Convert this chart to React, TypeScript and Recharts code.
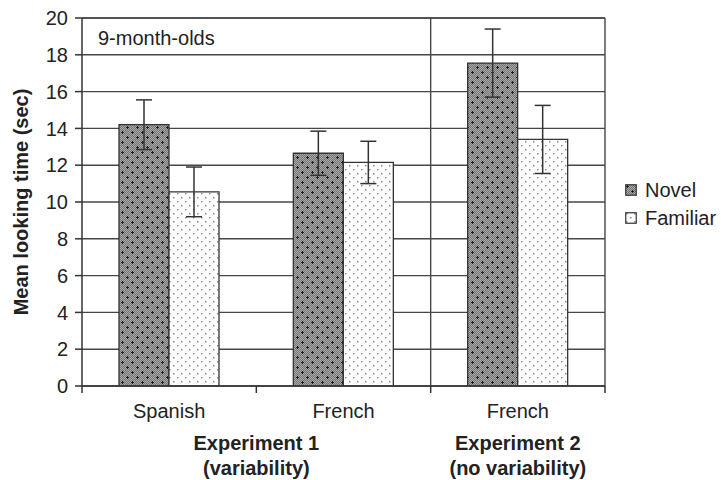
import React from 'react';
import {
  BarChart,
  Bar,
  XAxis,
  YAxis,
  CartesianGrid,
  ErrorBar,
  ReferenceLine,
  ReferenceArea,
  Legend,
} from 'recharts';

// ---- data ----
const categories = ['c1', 'c2', 'c3'];
const tickLabels = ['Spanish', 'French', 'French'];
const novelMeans = [14.2, 12.65, 17.55];
const novelErrors = [1.35, 1.2, 1.85];
const familiarMeans = [10.55, 12.15, 13.4];
const familiarErrors = [1.35, 1.15, 1.85];
const seriesNames = ['Novel', 'Familiar'];
const yTicks = [0, 2, 4, 6, 8, 10, 12, 14, 16, 18, 20];
const groupFrom = ['c1', 'c3'];
const groupTo = ['c2', 'c3'];
const groupLine1 = ['Experiment 1', 'Experiment 2'];
const groupLine2 = ['(variability)', '(no variability)'];
const panelNote = '9-month-olds';
const yTitle = 'Mean looking time (sec)';

const data = categories.map((c, i) => ({
  cat: c,
  novel: novelMeans[i],
  novelErr: novelErrors[i],
  familiar: familiarMeans[i],
  familiarErr: familiarErrors[i],
}));

const FONT = '"Liberation Sans", Arial, Helvetica, sans-serif';
const TEXT = '#222';
const LINE = '#474747';
const fills = ['url(#novelPat)', 'url(#familiarPat)'];

const CatTick = (props: any) => {
  const { x, y, payload } = props;
  const idx = categories.indexOf(payload.value);
  return (
    <text x={x} y={y + 32} textAnchor="middle" fontSize={20} fill={TEXT} fontFamily={FONT}>
      {tickLabels[idx]}
    </text>
  );
};

const YTitle = (props: any) => {
  const vb = props.viewBox || {};
  const cx = 21;
  const cy = (vb.y ?? 18) + (vb.height ?? 368) / 2;
  return (
    <text
      x={cx}
      y={cy}
      transform={`rotate(-90, ${cx}, ${cy})`}
      textAnchor="middle"
      dominantBaseline="central"
      fontSize={20}
      fontWeight="bold"
      fill={TEXT}
      fontFamily={FONT}
    >
      {yTitle}
    </text>
  );
};

const makeGroupLabel = (i: number) => (props: any) => {
  const vb = props.viewBox || {};
  const cx = vb.x + vb.width / 2;
  const bottom = vb.y + vb.height;
  return (
    <g>
      <text x={cx} y={bottom + 64} textAnchor="middle" fontSize={20} fontWeight="bold" fill={TEXT} fontFamily={FONT}>
        {groupLine1[i]}
      </text>
      <text x={cx} y={bottom + 89} textAnchor="middle" fontSize={20} fontWeight="bold" fill={TEXT} fontFamily={FONT}>
        {groupLine2[i]}
      </text>
    </g>
  );
};

const NoteLabel = (props: any) => {
  const vb = props.viewBox || {};
  return (
    <text x={vb.x + 16} y={vb.y + 27} fontSize={20} fill={TEXT} fontFamily={FONT}>
      {panelNote}
    </text>
  );
};

const BoundaryTick = (props: any) => {
  const { x1, y1, y2 } = props;
  const b = Math.max(y1, y2);
  return <line x1={x1} x2={x1} y1={b} y2={b + 7} stroke="#333" strokeWidth={1.5} />;
};

const LegendContent = () => (
  <div style={{ fontFamily: FONT, fontSize: 20, color: TEXT }}>
    {seriesNames.map((n, i) => (
      <div key={n} style={{ display: 'flex', alignItems: 'center', height: 28 }}>
        <svg width={12} height={12} style={{ marginRight: 8, display: 'block' }}>
          <rect x={0.75} y={0.75} width={10.5} height={10.5} fill={fills[i]} stroke="#333" strokeWidth={1.2} />
        </svg>
        <span style={{ lineHeight: '28px' }}>{n}</span>
      </div>
    ))}
  </div>
);

export default function App() {
  return (
    <div style={{ position: 'absolute', left: 0, top: 0, width: 721, height: 480, background: '#fff', fontFamily: FONT }}>
      <BarChart
        width={721}
        height={480}
        data={data}
        margin={{ top: 18, right: 116, bottom: 0, left: 0 }}
        barGap={0}
        barSize={50}
      >
        <defs>
          <pattern id="chk" width="2" height="2" patternUnits="userSpaceOnUse">
            <rect width="2" height="2" fill="#777777" />
            <rect x="0" y="0" width="1" height="1" fill="#a6a6a6" />
            <rect x="1" y="1" width="1" height="1" fill="#a6a6a6" />
          </pattern>
          <pattern id="novelPat" width="10" height="10" patternUnits="userSpaceOnUse">
            <rect width="10" height="10" fill="url(#chk)" />
            <rect x="1" y="2" width="3" height="1" fill="#1e1e1e" />
            <rect x="2" y="1" width="1" height="3" fill="#1e1e1e" />
            <rect x="6" y="7" width="3" height="1" fill="#1e1e1e" />
            <rect x="7" y="6" width="1" height="3" fill="#1e1e1e" />
          </pattern>
          <pattern id="familiarPat" width="8" height="8" patternUnits="userSpaceOnUse">
            <rect width="8" height="8" fill="#ffffff" />
            <rect x="1" y="1" width="1.5" height="1.5" fill="#8a8a8a" />
            <rect x="5" y="5" width="1.5" height="1.5" fill="#8a8a8a" />
          </pattern>
        </defs>
        <CartesianGrid vertical={false} stroke={LINE} strokeWidth={1.4} />
        <XAxis
          dataKey="cat"
          height={94}
          interval={0}
          tickLine={false}
          tickSize={0}
          tickMargin={0}
          axisLine={{ stroke: '#333', strokeWidth: 1.5 }}
          tick={<CatTick />}
        />
        <YAxis
          width={82}
          domain={[0, 20]}
          ticks={yTicks}
          interval={0}
          allowDataOverflow
          tickSize={7}
          tickMargin={7}
          tickLine={{ stroke: '#333', strokeWidth: 1.5 }}
          axisLine={{ stroke: '#333', strokeWidth: 1.5 }}
          tick={{ fontSize: 20, fill: TEXT, fontFamily: FONT }}
          label={{ content: YTitle }}
        />
        <ReferenceLine y={20} stroke={LINE} strokeWidth={1.4} label={{ content: NoteLabel }} />
        <ReferenceLine x="c3" position="start" stroke={LINE} strokeWidth={1.4} />
        <ReferenceLine x="c3" position="end" stroke={LINE} strokeWidth={1.4} />
        {categories.map((c) => (
          <ReferenceLine key={'bt' + c} x={c} position="start" shape={<BoundaryTick />} />
        ))}
        <ReferenceLine x={categories[categories.length - 1]} position="end" shape={<BoundaryTick />} />
        {groupFrom.map((g, i) => (
          <ReferenceArea
            key={'g' + i}
            x1={g}
            x2={groupTo[i]}
            fill="none"
            fillOpacity={0}
            stroke="none"
            label={{ content: makeGroupLabel(i) }}
          />
        ))}
        <Bar dataKey="novel" name={seriesNames[0]} fill={fills[0]} stroke="#333" strokeWidth={1.3} isAnimationActive={false}>
          <ErrorBar dataKey="novelErr" width={8} stroke="#333" strokeWidth={1.5} direction="y" isAnimationActive={false} />
        </Bar>
        <Bar dataKey="familiar" name={seriesNames[1]} fill={fills[1]} stroke="#333" strokeWidth={1.3} isAnimationActive={false}>
          <ErrorBar dataKey="familiarErr" width={8} stroke="#333" strokeWidth={1.5} direction="y" isAnimationActive={false} />
        </Bar>
        <Legend
          layout="horizontal"
          verticalAlign="middle"
          align="center"
          wrapperStyle={{ left: 625, top: 176, width: 96 }}
          content={<LegendContent />}
        />
      </BarChart>
    </div>
  );
}
